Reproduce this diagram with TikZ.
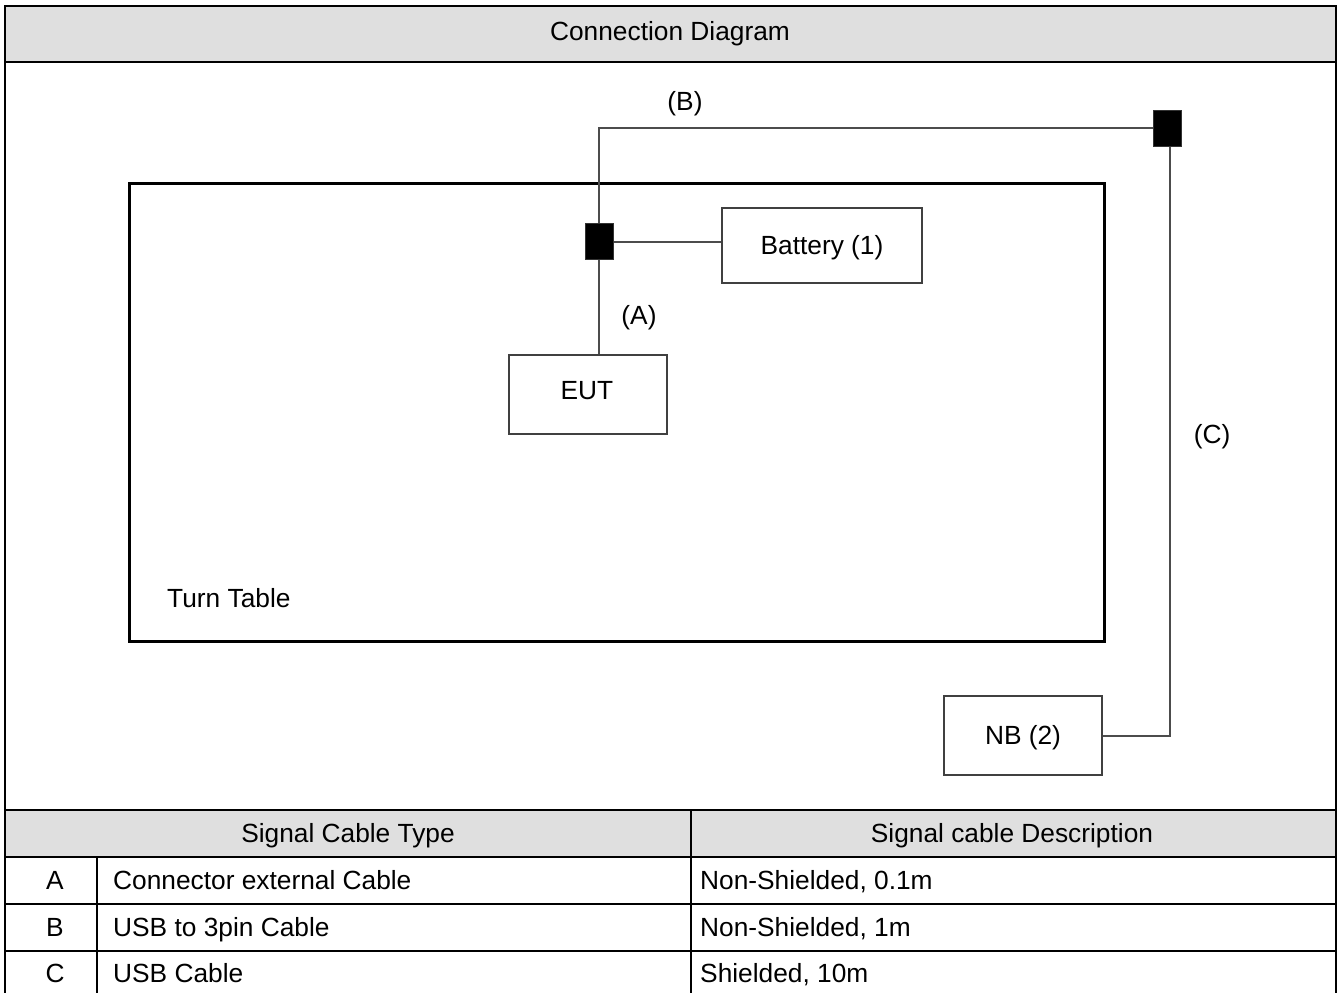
\documentclass[tikz,border=0pt]{standalone}
\usepackage{fontspec}
\setmainfont{Liberation Sans}
\begin{document}
\begin{tikzpicture}[x=1pt,y=-1pt,
  frame/.style={line width=2.5pt,black},
  box/.style={draw=black!75,line width=2pt,fill=white,inner sep=0pt},
  blk/.style={fill=black,draw=black!80,line width=1pt,inner sep=0pt,minimum width=28pt,minimum height=36pt},
  wire/.style={draw=black!70,line width=2pt},
  lbl/.style={font=\fontsize{26.3}{30}\selectfont,inner sep=0pt,text height=18.5pt,text depth=0pt},
  ]
\useasboundingbox (0,0) rectangle (1341,993);
% header fills
\fill[gray!25] (5,6) rectangle (1336,62);
\fill[gray!25] (5,810) rectangle (1336,857);
% frame and table lines
\draw[frame] (5,996) -- (5,6) -- (1336,6) -- (1336,996);
\draw[frame] (5,62) -- (1336,62);
\draw[frame] (5,810) -- (1336,810);
\draw[frame] (5,857) -- (1336,857);
\draw[frame] (5,904) -- (1336,904);
\draw[frame] (5,951) -- (1336,951);
\draw[frame] (691,810) -- (691,996);
\draw[frame] (97,857) -- (97,996);
% texts of frame / table
\node[lbl] (title) at (670,31) {Connection Diagram};
\node[lbl] (h1) at (348,833.5) {Signal Cable Type};
\node[lbl] (h2) at (1012,833.5) {Signal cable Description};
\node[lbl] (ra) at (55,880.5) {A};
\node[lbl] (rb) at (55,927.5) {B};
\node[lbl] (rc) at (55,973.5) {C};
\node[lbl,anchor=west] (ta) at (113,880.5) {Connector external Cable};
\node[lbl,anchor=west] (tb) at (113,927.5) {USB to 3pin Cable};
\node[lbl,anchor=west] (tc) at (113,973.5) {USB Cable};
\node[lbl,anchor=west] (da) at (700,880.5) {Non-Shielded, 0.1m};
\node[lbl,anchor=west] (db) at (700,927.5) {Non-Shielded, 1m};
\node[lbl,anchor=west] (dc) at (700,973.5) {Shielded, 10m};
% diagram
\node[draw=black,line width=3pt,minimum width=975pt,minimum height=458pt,inner sep=0pt] (tt) at (616.5,412) {};
\node[lbl,anchor=west] (ttl) at (167,598) {Turn Table};
\node[blk] (b1) at (599,241.5) {};
\node[blk] (b2) at (1167,128) {};
\node[box,lbl,minimum width=200pt,minimum height=75pt] (bat) at (822,245.5) {Battery (1)};
\node[box,lbl,minimum width=158pt,minimum height=79pt] (eut) at (588,394.5) {};
\node[lbl] (eutt) at (587,390) {EUT};
\node[box,lbl,minimum width=158pt,minimum height=79pt] (nb) at (1023,735.5) {NB (2)};
\coordinate (b2s) at ([xshift=3pt]b2.south);
\draw[wire] (b1.north) |- (b2.west);
\draw[wire] (b1.east) -- (b1.east -| bat.west);
\draw[wire] (b1.south) -- (eut.north -| b1.south);
\draw[wire] (b2s) |- (nb.east);
\node[lbl] (lb) at (685,101) {(B)};
\node[lbl] (la) at (639,315) {(A)};
\node[lbl] (lc) at (1212,434) {(C)};
\end{tikzpicture}
\end{document}
